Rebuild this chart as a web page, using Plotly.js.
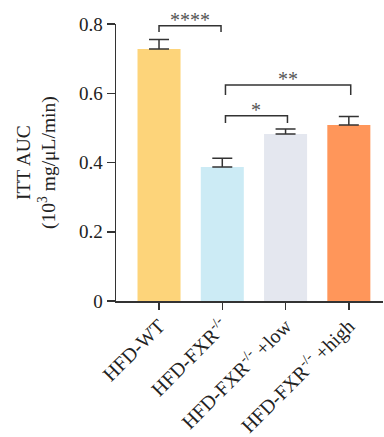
<!DOCTYPE html>
<html><head><meta charset="utf-8">
<script src="https://cdn.plot.ly/plotly-3.0.1.min.js"></script>
<style>body{margin:0;background:#fff}#chart{width:384px;height:437px}</style>
</head><body><div id="chart"></div>
<script>
var categories = ["HFD-WT", "HFD-FXR<sup>-/-</sup>", "HFD-FXR<sup>-/-</sup> +low", "HFD-FXR<sup>-/-</sup> +high"];
var means = [0.728, 0.387, 0.482, 0.508];
var errors = [0.027, 0.025, 0.015, 0.025];
var colors = ["#FDD47A", "#CCEBF5", "#E4E7EF", "#FF965A"];
var yTicks = [0, 0.2, 0.4, 0.6, 0.8];
var yTickText = ["0", "0.2", "0.4", "0.6", "0.8"];
// significance brackets
var sigFrom = [0, 1.05, 1.05];
var sigTo = [0.98, 2.03, 3.03];
var sigTop = [0.795, 0.535, 0.624];
var sigLeg = [0.777, 0.514, 0.595];
var sigLabel = ["****", "*", "**"];

var xIdx = categories.map(function(_, i){return i;});
var font = "Liberation Serif, Times New Roman, serif";
var axisColor = "#333333";

var trace = {
  type: "bar", x: xIdx, y: means,
  marker: {color: colors, line: {width: 0}},
  width: 0.68,
  error_y: {type: "data", array: errors, arrayminus: errors.map(function(){return 0;}), symmetric: false, color: axisColor, thickness: 1.5, width: 10},
  hoverinfo: "none"
};

var shapes = [], annotations = [];
for (var i = 0; i < sigLabel.length; i++) {
  shapes.push({type: "path", xref: "x", yref: "y",
    path: "M " + sigFrom[i] + " " + sigLeg[i] + " L " + sigFrom[i] + " " + sigTop[i] + " L " + sigTo[i] + " " + sigTop[i] + " L " + sigTo[i] + " " + sigLeg[i],
    line: {color: axisColor, width: 1.5}});
  annotations.push({xref: "x", yref: "y", x: (sigFrom[i] + sigTo[i]) / 2, y: sigTop[i], yshift: -7,
    text: sigLabel[i], showarrow: false, yanchor: "bottom",
    font: {family: font, size: 20, color: "#555"}});
}
annotations.push({xref: "paper", yref: "paper", x: -0.298, y: 0.5, xanchor: "center", yanchor: "middle",
  text: "ITT AUC<br>(10<sup>3</sup> mg/μL/min)", textangle: -90, showarrow: false,
  font: {family: font, size: 19.5, color: "#222"}});

var layout = {
  width: 384, height: 437,
  margin: {l: 116, r: 1, t: 24, b: 136},
  paper_bgcolor: "#fff", plot_bgcolor: "#fff",
  showlegend: false,
  xaxis: {range: [-0.68, 3.54], tickvals: xIdx, ticktext: categories, tickangle: -45,
    showline: true, linecolor: axisColor, linewidth: 1.5, ticks: "outside", ticklen: 7, tickwidth: 1.5, tickcolor: axisColor,
    showgrid: false, zeroline: false, fixedrange: true, ticklabelstandoff: -3,
    tickfont: {family: font, size: 20, color: "#222"}},
  yaxis: {range: [0, 0.8], tickvals: yTicks, ticktext: yTickText,
    showline: true, linecolor: axisColor, linewidth: 1.5, ticks: "outside", ticklen: 8, tickwidth: 1.5, tickcolor: axisColor,
    showgrid: false, zeroline: false, fixedrange: true,
    tickfont: {family: font, size: 19, color: "#222"}},
  shapes: shapes, annotations: annotations
};
Plotly.newPlot("chart", [trace], layout, {displayModeBar: false, staticPlot: true});
</script></body></html>
